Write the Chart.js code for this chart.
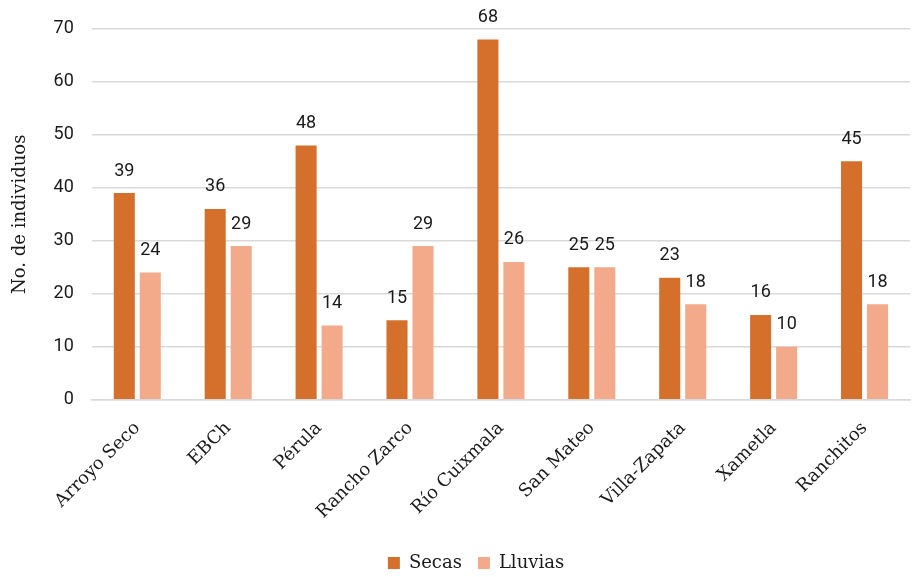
<!DOCTYPE html>
<html>
<head>
<meta charset="utf-8">
<script src="https://cdn.jsdelivr.net/npm/chart.js@4"></script>
<style>
  html, body { margin: 0; padding: 0; background: #fff; }
  #wrap { width: 922px; height: 577px; }
</style>
</head>
<body>
<div id="wrap"><canvas id="sitiosChart" width="922" height="577"></canvas></div>
<script>
const sitios = ['Arroyo Seco', 'EBCh', 'Pérula', 'Rancho Zarco', 'Río Cuixmala', 'San Mateo', 'Villa-Zapata', 'Xametla', 'Ranchitos'];
const secas = [39, 36, 48, 15, 68, 25, 23, 16, 45];
const lluvias = [24, 29, 14, 29, 26, 25, 18, 10, 18];

const serif = "'DejaVu Serif', serif";
const sans = "Roboto, 'Liberation Sans', sans-serif";

// numbers above every bar
const valueLabels = {
  id: 'valueLabels',
  afterDatasetsDraw(chart) {
    const { ctx } = chart;
    ctx.save();
    ctx.font = '18px ' + sans;
    ctx.fillStyle = '#1a1a1a';
    ctx.textAlign = 'center';
    ctx.textBaseline = 'bottom';
    chart.data.datasets.forEach((ds, i) => {
      chart.getDatasetMeta(i).data.forEach((bar, j) => {
        ctx.fillText(ds.data[j], bar.x, bar.y - 13);
      });
    });
    ctx.restore();
  }
};

// nudge the legend a bit right and down
const legendShift = {
  id: 'legendShift',
  afterLayout(chart) {
    const lg = chart.legend;
    lg.left += 18; lg.right += 18;
    lg.top += 5; lg.bottom += 5;
  }
};

new Chart(document.getElementById('sitiosChart'), {
  type: 'bar',
  data: {
    labels: sitios,
    datasets: [
      { label: 'Secas', data: secas, backgroundColor: '#D4702C', categoryPercentage: 0.572, barPercentage: 0.81 },
      { label: 'Lluvias', data: lluvias, backgroundColor: '#F3AA8B', categoryPercentage: 0.572, barPercentage: 0.81 }
    ]
  },
  options: {
    responsive: false,
    animation: false,
    layout: { padding: { top: 20, right: 12, left: 6, bottom: 0 } },
    plugins: {
      legend: {
        position: 'bottom',
        labels: {
          boxWidth: 12,
          boxHeight: 12,
          padding: 16,
          color: '#1a1a1a',
          font: { family: serif, size: 18 }
        }
      },
      tooltip: { enabled: false }
    },
    scales: {
      x: {
        grid: { display: false },
        border: { color: '#d9d9d9', width: 1.5 },
        ticks: {
          color: '#1a1a1a',
          font: { family: serif, size: 18 },
          padding: 10,
          minRotation: 45,
          maxRotation: 45,
          autoSkip: false
        }
      },
      y: {
        min: 0,
        max: 70,
        ticks: {
          stepSize: 10,
          color: '#1a1a1a',
          padding: 18,
          font: { family: sans, size: 18 }
        },
        grid: { color: '#d9d9d9', lineWidth: 1.5, drawTicks: false },
        border: { display: false },
        title: {
          display: true,
          text: 'No. de individuos',
          color: '#1a1a1a',
          font: { family: serif, size: 18 }
        }
      }
    }
  },
  plugins: [valueLabels, legendShift]
});
</script>
</body>
</html>
